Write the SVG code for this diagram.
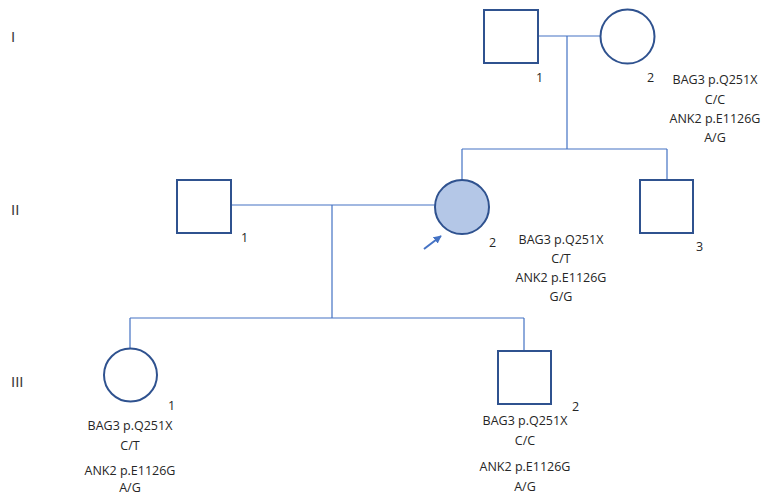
<svg xmlns="http://www.w3.org/2000/svg" width="762" height="497" viewBox="0 0 762 497">
<style>
.sym{fill:#ffffff;stroke:#2F528F;stroke-width:2}
.aff{fill:#B4C7E7;stroke:#2F528F;stroke-width:2}
.ln{stroke:#4472C4;stroke-width:1.2;fill:none}
text{font-family:"Open Sans","Liberation Sans",sans-serif;font-size:12.5px;fill:#262626}
text.gen{font-family:"Liberation Sans",sans-serif;font-size:15px;fill:#404040}
.c{text-anchor:middle}
</style>
<defs>
<marker id="ah" viewBox="0 0 10 10" refX="9" refY="5" markerWidth="4" markerHeight="4" orient="auto">
<path d="M0,0 L10,5 L0,10 z" fill="#4472C4"/>
</marker>
</defs>
<rect width="762" height="497" fill="#ffffff"/>
<g id="generations">
<text class="gen" x="11" y="42">I</text>
<text class="gen" x="11" y="215">II</text>
<text class="gen" x="11" y="387">III</text>
</g>
<g id="connectors">
<path class="ln" d="M538,36 H600 M567,36 V149 M462,149 H667 M462,149 V180 M667,149 V180"/>
<path class="ln" d="M231,205 H435 M332,205 V318 M130,318 H524 M130,318 V348 M524,318 V351"/>
<line x1="424" y1="249" x2="441" y2="236" stroke="#4472C4" stroke-width="2" marker-end="url(#ah)"/>
</g>
<g id="I-1">
<rect class="sym" x="484" y="10" width="54" height="53"/>
<text x="536" y="82">1</text>
</g>
<g id="I-2">
<circle class="sym" cx="627.5" cy="36.5" r="27"/>
<text x="647" y="82">2</text>
<text class="c" x="715" y="84">BAG3 p.Q251X</text>
<text class="c" x="715" y="104">C/C</text>
<text class="c" x="715" y="123">ANK2 p.E1126G</text>
<text class="c" x="715" y="142">A/G</text>
</g>
<g id="II-1">
<rect class="sym" x="177" y="180" width="54" height="53"/>
<text x="241" y="242">1</text>
</g>
<g id="II-2">
<circle class="aff" cx="462" cy="207" r="27"/>
<text x="489" y="247">2</text>
<text class="c" x="561" y="244">BAG3 p.Q251X</text>
<text class="c" x="561" y="263">C/T</text>
<text class="c" x="561" y="282">ANK2 p.E1126G</text>
<text class="c" x="561" y="301">G/G</text>
</g>
<g id="II-3">
<rect class="sym" x="640" y="180" width="53" height="53"/>
<text x="696" y="251">3</text>
</g>
<g id="III-1">
<circle class="sym" cx="130.5" cy="375" r="26.5"/>
<text x="168" y="410">1</text>
<text class="c" x="130" y="430">BAG3 p.Q251X</text>
<text class="c" x="130" y="450">C/T</text>
<text class="c" x="130" y="475">ANK2 p.E1126G</text>
<text class="c" x="130" y="492">A/G</text>
</g>
<g id="III-2">
<rect class="sym" x="498" y="351" width="53" height="53"/>
<text x="572" y="411">2</text>
<text class="c" x="525" y="425">BAG3 p.Q251X</text>
<text class="c" x="525" y="445">C/C</text>
<text class="c" x="525" y="471">ANK2 p.E1126G</text>
<text class="c" x="525" y="491">A/G</text>
</g>
</svg>
